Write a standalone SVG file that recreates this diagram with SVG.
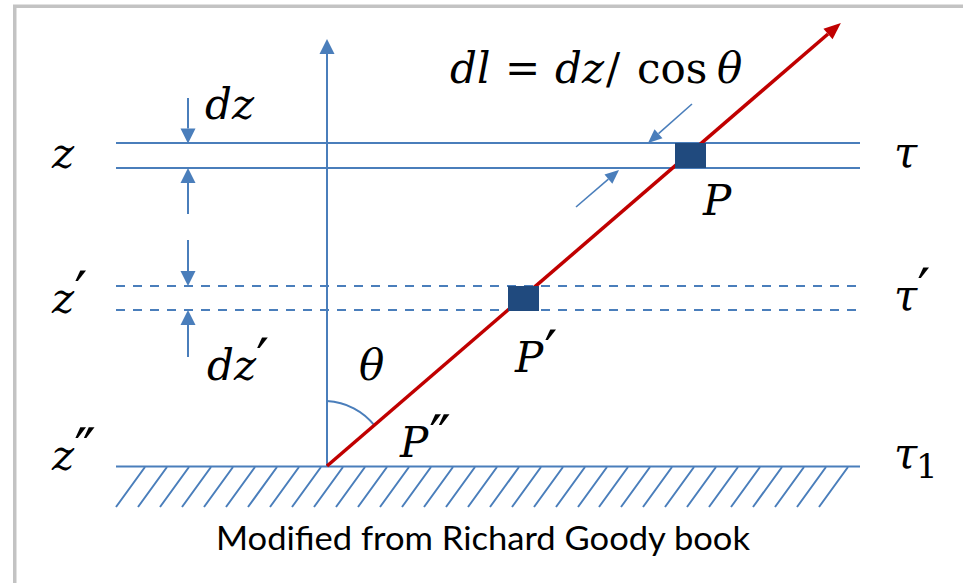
<svg xmlns="http://www.w3.org/2000/svg" width="963" height="583" viewBox="0 0 963 583">
  <style>
    .blue { stroke: #4A7EBB; fill: none; stroke-width: 2; }
    .thin { stroke: #4A7EBB; fill: none; stroke-width: 1.6; }
    .dash { stroke: #4A7EBB; fill: none; stroke-width: 2; stroke-dasharray: 9 8; }
    .math { font-family: "DejaVu Serif", "Liberation Serif", serif; font-style: italic; fill: #000; font-size: 42px; }
    .up { font-style: normal; }
    .pr { font-family: "DejaVu Sans", sans-serif; font-style: normal; font-size: 58px; }
    .cap { font-family: Lato, "Liberation Sans", sans-serif; font-size: 32px; fill: #000; }
    .sq { fill: #204A7E; }
  </style>
  <defs>
    <marker id="ab" markerUnits="userSpaceOnUse" markerWidth="16" markerHeight="16" refX="0" refY="7.5" orient="auto" overflow="visible">
      <path d="M0,0 L15,7.5 L0,15 Z" fill="#4A7EBB"/>
    </marker>
    <marker id="abs" markerUnits="userSpaceOnUse" markerWidth="15" markerHeight="13" refX="0" refY="6" orient="auto" overflow="visible">
      <path d="M0,0 L14,6 L0,12 Z" fill="#4A7EBB"/>
    </marker>
    <marker id="ar" markerUnits="userSpaceOnUse" markerWidth="18" markerHeight="16" refX="0" refY="7" orient="auto" overflow="visible">
      <path d="M0,0 L17,7 L0,14 Z" fill="#C00000"/>
    </marker>
  </defs>

  <g id="frame">
    <rect x="14.75" y="6.25" width="1000" height="1000" fill="none" stroke="#C3C3C3" stroke-width="3.5"/>
  </g>

  <g id="layers">
    <line class="blue" x1="116" y1="143" x2="860" y2="143"/>
    <line class="blue" x1="116" y1="168" x2="860" y2="168"/>
    <line class="dash" x1="116" y1="286" x2="860" y2="286"/>
    <line class="dash" x1="116" y1="310" x2="860" y2="310"/>
    <line class="blue" x1="116" y1="466.5" x2="860" y2="466.5"/>
  </g>

  <g id="ground-hatch" class="blue">
    <path d="M145,467 L116,507 M167,467 L138,507 M189,467 L160,507 M211,467 L182,507 M233,467 L204,507 M255,467 L226,507 M277,467 L248,507 M299,467 L270,507 M321,467 L292,507 M343,467 L314,507 M365,467 L336,507 M387,467 L358,507 M409,467 L380,507 M431,467 L402,507 M453,467 L424,507 M475,467 L446,507 M497,467 L468,507 M519,467 L490,507 M541,467 L512,507 M563,467 L534,507 M585,467 L556,507 M607,467 L578,507 M628,467 L599,507 M650,467 L621,507 M672,467 L643,507 M694,467 L665,507 M716,467 L687,507 M738,467 L709,507 M760,467 L731,507 M782,467 L753,507 M804,467 L775,507 M826,467 L797,507 M848,467 L819,507"/>
  </g>

  <g id="angle">
    <path class="blue" d="M327,401 A65,65 0 0 1 375,426"/>
  </g>

  <g id="connectors">
    <line class="blue" x1="327" y1="466" x2="327" y2="54" marker-end="url(#ab)"/>
    <line stroke="#C00000" stroke-width="3.5" x1="327" y1="466" x2="828" y2="34" marker-end="url(#ar)"/>
    <line class="blue" x1="188" y1="98" x2="188" y2="128.5" marker-end="url(#ab)"/>
    <line class="blue" x1="188" y1="214" x2="188" y2="183" marker-end="url(#ab)"/>
    <line class="blue" x1="188" y1="240" x2="188" y2="271" marker-end="url(#ab)"/>
    <line class="blue" x1="188" y1="357" x2="188" y2="325" marker-end="url(#ab)"/>
    <line class="thin" x1="692" y1="104" x2="658.5" y2="133.7" marker-end="url(#abs)"/>
    <line class="thin" x1="576" y1="207" x2="608.4" y2="179.1" marker-end="url(#abs)"/>
  </g>

  <g id="node-P">
    <rect class="sq" x="675" y="143" width="31" height="25"/>
    <text class="math" x="703" y="215" font-size="45">P</text>
  </g>
  <g id="node-P1">
    <rect class="sq" x="508" y="286" width="31" height="25"/>
    <text class="math" x="515" y="372" font-size="45">P<tspan class="pr" dx="1">′</tspan></text>
  </g>
  <g id="node-P2">
    <text class="math" x="400" y="457" font-size="45">P<tspan class="pr" dx="1">″</tspan></text>
  </g>

  <g id="labels-left">
    <text class="math" x="52" y="168" font-size="44">z</text>
    <text class="math" x="52" y="313" font-size="44">z<tspan class="pr" dx="0">′</tspan></text>
    <text class="math" x="52" y="470" font-size="44">z<tspan class="pr" dx="0">″</tspan></text>
  </g>
  <g id="labels-right">
    <text class="math" x="894" y="167" font-size="44">τ</text>
    <text class="math" x="894" y="310" font-size="44">τ<tspan class="pr" dx="0">′</tspan></text>
    <text class="math" x="894" y="468" font-size="44">τ<tspan class="up" font-size="34" x="916" y="478">1</tspan></text>
  </g>
  <g id="labels-inner">
    <text class="math" x="205" y="119" font-size="44">dz</text>
    <text class="math" x="207" y="380" font-size="44">dz<tspan class="pr" dx="0">′</tspan></text>
    <text class="math" x="359" y="380" font-size="44">θ</text>
  </g>
  <g id="formula">
    <text class="math" font-size="40" y="83"><tspan x="450">dl</tspan><tspan class="up" x="505">=</tspan><tspan x="555">dz</tspan><tspan class="up" x="606">/</tspan><tspan class="up" x="637">cos</tspan><tspan x="717">θ</tspan></text>
  </g>

  <g id="caption">
    <text class="cap" x="216" y="550" textLength="534" lengthAdjust="spacingAndGlyphs">Modified from Richard Goody book</text>
  </g>
</svg>
